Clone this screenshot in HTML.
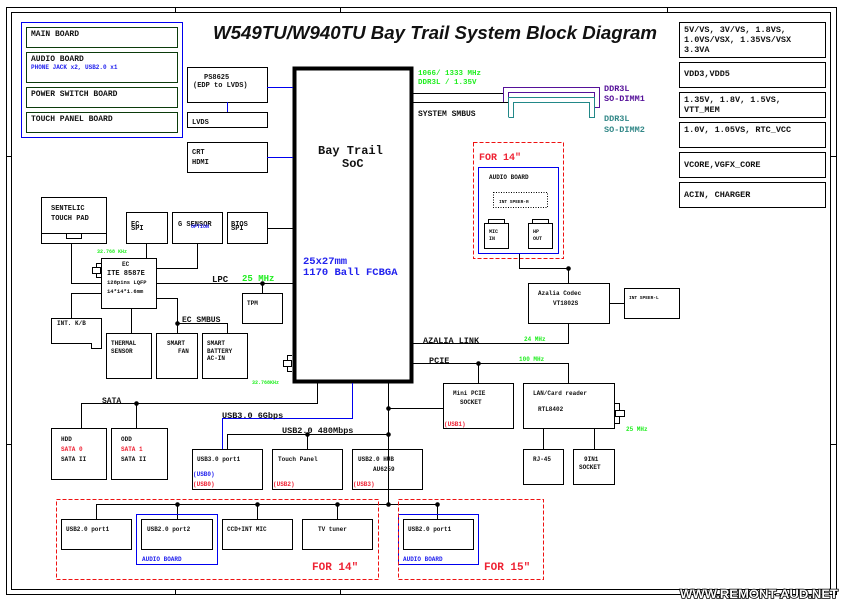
<!DOCTYPE html>
<html><head><meta charset="utf-8"><style>
html,body{margin:0;padding:0;background:#fff;}
svg{display:block;}
text{font-family:"Liberation Mono",monospace;font-weight:bold;font-size:8px;fill:#111;}
.s{font-size:6px;}
.g{fill:#22ee22;}
.b{fill:#2222ee;}
.r{fill:#ee2233;}
</style></head><body>
<svg width="844" height="603" viewBox="0 0 844 603" xmlns="http://www.w3.org/2000/svg">
<g fill="none" stroke="#000" stroke-width="1">
<rect x="6.5" y="7.5" width="830" height="587"/>
<rect x="11.5" y="12.5" width="819" height="577"/>
<line x1="175.5" y1="7" x2="175.5" y2="12"/><line x1="667.5" y1="7" x2="667.5" y2="12"/><line x1="340.5" y1="7" x2="340.5" y2="12"/>
<line x1="175.5" y1="589" x2="175.5" y2="594"/><line x1="340.5" y1="589" x2="340.5" y2="594"/>
<line x1="6" y1="156.5" x2="11" y2="156.5"/><line x1="6" y1="444.5" x2="11" y2="444.5"/>
<line x1="831" y1="156.5" x2="836" y2="156.5"/><line x1="831" y1="444.5" x2="836" y2="444.5"/>
<rect x="21.5" y="22.5" width="161" height="115" stroke="#0000ee"/>
<g stroke="#0b3b0b"><rect x="26.5" y="27.5" width="151" height="20"/><rect x="26.5" y="52.5" width="151" height="30"/><rect x="26.5" y="87.5" width="151" height="20"/><rect x="26.5" y="112.5" width="151" height="20"/></g>
<rect x="294.5" y="68.5" width="117" height="313" stroke-width="4"/>
<rect x="187.5" y="67.5" width="80" height="35"/><rect x="187.5" y="112.5" width="80" height="15"/><rect x="187.5" y="142.5" width="80" height="30"/>
<g stroke="#0000ee"><line x1="227.5" y1="102" x2="227.5" y2="112"/><line x1="267" y1="87.5" x2="293" y2="87.5"/><line x1="267" y1="157.5" x2="293" y2="157.5"/></g>
<rect x="41.5" y="197.5" width="65" height="46"/><line x1="41" y1="233.5" x2="106" y2="233.5"/><rect x="66.5" y="233.5" width="15" height="5"/>
<rect x="126.5" y="212.5" width="41" height="31"/><rect x="172.5" y="212.5" width="50" height="31"/><rect x="227.5" y="212.5" width="40" height="31"/>
<line x1="267" y1="228.5" x2="293" y2="228.5"/>
<rect x="101.5" y="258.5" width="55" height="50"/>
<line x1="146.5" y1="243" x2="146.5" y2="258"/>
<polyline points="197.5,243 197.5,268.5 156,268.5"/>
<polyline points="71.5,243 71.5,283.5 101,283.5"/>
<line x1="156" y1="283.5" x2="293" y2="283.5"/>
<line x1="262.5" y1="283" x2="262.5" y2="293"/><rect x="242.5" y="293.5" width="40" height="30"/>
<polyline points="101,293.5 71.5,293.5 71.5,318"/>
<polygon points="51.5,318.5 101.5,318.5 101.5,348.5 91.5,348.5 91.5,343.5 51.5,343.5"/>
<line x1="131.5" y1="308" x2="131.5" y2="333"/><rect x="106.5" y="333.5" width="45" height="45"/>
<polyline points="156,298.5 177.5,298.5 177.5,333"/><polyline points="177.5,323.5 227.5,323.5 227.5,333"/>
<rect x="156.5" y="333.5" width="41" height="45"/><rect x="202.5" y="333.5" width="45" height="45"/>
<polyline points="101,263.5 96.5,263.5 96.5,267"/><rect x="92.5" y="267.5" width="8" height="6"/><polyline points="96.5,273 96.5,277.5 101,277.5"/>
<polyline points="292,355.5 287.5,355.5 287.5,360"/><rect x="283.5" y="360.5" width="8" height="6"/><polyline points="287.5,367 287.5,371.5 292,371.5"/>
<polyline points="614,403.5 619.5,403.5 619.5,410"/><rect x="615.5" y="410.5" width="9" height="6"/><polyline points="619.5,417 619.5,423.5 614,423.5"/>
<polyline points="317.5,383 317.5,403.5 81.5,403.5 81.5,428"/><line x1="136.5" y1="403" x2="136.5" y2="428"/>
<rect x="51.5" y="428.5" width="55" height="51"/><rect x="111.5" y="428.5" width="56" height="51"/>
<polyline points="352.5,383 352.5,418.5 222.5,418.5 222.5,449" stroke="#0000ee"/>
<line x1="388.5" y1="383" x2="388.5" y2="504"/>
<line x1="388" y1="408.5" x2="443" y2="408.5"/>
<polyline points="227.5,449 227.5,434.5 388,434.5"/><line x1="307.5" y1="434" x2="307.5" y2="449"/>
<rect x="192.5" y="449.5" width="70" height="40"/><rect x="272.5" y="449.5" width="70" height="40"/><rect x="352.5" y="449.5" width="70" height="40"/>
<polyline points="96.5,519 96.5,504.5 437.5,504.5 437.5,519"/>
<line x1="177.5" y1="504" x2="177.5" y2="519"/><line x1="257.5" y1="504" x2="257.5" y2="519"/><line x1="337.5" y1="504" x2="337.5" y2="519"/>
<rect x="61.5" y="519.5" width="70" height="30"/><rect x="141.5" y="519.5" width="71" height="30"/><rect x="222.5" y="519.5" width="70" height="30"/><rect x="302.5" y="519.5" width="70" height="30"/><rect x="403.5" y="519.5" width="70" height="30"/>
<rect x="136.5" y="514.5" width="81" height="50" stroke="#0000ee"/><rect x="398.5" y="514.5" width="80" height="50" stroke="#0000ee"/>
<g stroke="#ee1111" stroke-dasharray="4,2"><rect x="56.5" y="499.5" width="322" height="80"/><rect x="398.5" y="499.5" width="145" height="80"/><rect x="473.5" y="142.5" width="90" height="116"/></g>
<line x1="413" y1="363.5" x2="568.5" y2="363.5"/><line x1="568.5" y1="363" x2="568.5" y2="383"/><line x1="478.5" y1="363" x2="478.5" y2="383"/>
<rect x="443.5" y="383.5" width="70" height="45"/><rect x="523.5" y="383.5" width="91" height="45"/>
<line x1="543.5" y1="428" x2="543.5" y2="449"/><line x1="594.5" y1="428" x2="594.5" y2="449"/>
<rect x="523.5" y="449.5" width="40" height="35"/><rect x="573.5" y="449.5" width="41" height="35"/>
<polyline points="413,343.5 568.5,343.5 568.5,323"/>
<rect x="528.5" y="283.5" width="81" height="40"/><rect x="624.5" y="288.5" width="55" height="30"/><line x1="609" y1="303.5" x2="624" y2="303.5"/>
<polyline points="568.5,283 568.5,268.5 519.5,268.5 519.5,253"/>
<rect x="478.5" y="167.5" width="80" height="86" stroke="#0000ee"/>
<rect x="493.5" y="192.5" width="54" height="15" stroke-dasharray="1,1.5"/>
<rect x="484.5" y="223.5" width="24" height="25"/><rect x="488.5" y="219.5" width="16" height="4"/>
<rect x="528.5" y="223.5" width="24" height="25"/><rect x="532.5" y="219.5" width="16" height="4"/>
<line x1="413" y1="93.5" x2="503" y2="93.5"/><line x1="413" y1="102.5" x2="508" y2="102.5"/>
<polyline points="503.5,102 503.5,87.5 599.5,87.5 599.5,107.5 594.5,107.5 594.5,92.5 508.5,92.5 508.5,102" stroke="#551199"/>
<polyline points="508.5,117 508.5,97.5 594.5,97.5 594.5,117.5 589.5,117.5 589.5,102.5 513.5,102.5 513.5,117.5 508.5,117.5" stroke="#228888"/>
<rect x="679.5" y="22.5" width="146" height="35"/><rect x="679.5" y="62.5" width="146" height="25"/><rect x="679.5" y="92.5" width="146" height="25"/><rect x="679.5" y="122.5" width="146" height="25"/><rect x="679.5" y="152.5" width="146" height="25"/><rect x="679.5" y="182.5" width="146" height="25"/>
</g>
<g fill="#000">
<circle cx="262.5" cy="283.5" r="2.3"/><circle cx="177.5" cy="323.5" r="2.3"/><circle cx="136.5" cy="403.5" r="2.3"/>
<circle cx="388.5" cy="408.5" r="2.3"/><circle cx="388.5" cy="434.5" r="2.3"/><circle cx="307.5" cy="434.5" r="2.3"/>
<circle cx="388.5" cy="504.5" r="2.3"/><circle cx="177.5" cy="504.5" r="2.3"/><circle cx="257.5" cy="504.5" r="2.3"/><circle cx="337.5" cy="504.5" r="2.3"/><circle cx="437.5" cy="504.5" r="2.3"/>
<circle cx="478.5" cy="363.5" r="2.3"/><circle cx="568.5" cy="268.5" r="2.3"/>
</g>
<text x="213" y="39" textLength="444" lengthAdjust="spacingAndGlyphs" style="font-family:'Liberation Sans',sans-serif;font-style:italic;font-size:18.5px;">W549TU/W940TU Bay Trail System Block Diagram</text>
<text x="31" y="36">MAIN  BOARD</text>
<text x="31" y="61">AUDIO  BOARD</text><text x="31" y="69" class="s b">PHONE JACK x2, USB2.0 x1</text>
<text x="31" y="96">POWER  SWITCH  BOARD</text>
<text x="31" y="121">TOUCH  PANEL  BOARD</text>
<text x="204" y="79" class="s" style="font-size:7px">PS8625</text><text x="193" y="87" class="s" style="font-size:7px">(EDP to LVDS)</text>
<text x="192" y="124" class="s" style="font-size:7px">LVDS</text>
<text x="192" y="154" class="s" style="font-size:7px">CRT</text><text x="192" y="164" class="s" style="font-size:7px">HDMI</text>
<text x="318" y="154" style="font-size:12px">Bay Trail</text><text x="342" y="167" style="font-size:12px">SoC</text>
<text x="303" y="264" class="b" style="font-size:10.5px">25x27mm</text><text x="303" y="275" class="b" style="font-size:10.5px">1170 Ball FCBGA</text>
<text x="51" y="210" class="s" style="font-size:7px">SENTELIC</text><text x="51" y="220" class="s" style="font-size:7px">TOUCH PAD</text>
<text x="131" y="226" class="s" style="font-size:7px">EC</text><text x="131" y="230" class="s" style="font-size:7px">SPI</text>
<text x="178" y="226" class="s" style="font-size:7px">G SENSOR</text><text x="191" y="228" class="s b" style="font-size:5px">OPTION</text>
<text x="231" y="226" class="s" style="font-size:7px">BIOS</text><text x="231" y="230" class="s" style="font-size:7px">SPI</text>
<text x="97" y="253" class="s g" style="font-size:5px">32.768 KHz</text>
<text x="122" y="266" class="s">EC</text><text x="107" y="275" class="s" style="font-size:7px">ITE 8587E</text>
<text x="107" y="284" class="s" style="font-size:5.5px">128pins LQFP</text><text x="107" y="293" class="s" style="font-size:5.5px">14*14*1.6mm</text>
<text x="212" y="282" style="font-size:9px">LPC</text><text x="242" y="281" class="g" style="font-size:9px">25 MHz</text>
<text x="247" y="305" class="s">TPM</text>
<text x="57" y="325" class="s">INT. K/B</text>
<text x="111" y="345" class="s">THERMAL</text><text x="111" y="353" class="s">SENSOR</text>
<text x="182" y="322" style="font-size:8px">EC SMBUS</text>
<text x="167" y="345" class="s">SMART</text><text x="178" y="353" class="s">FAN</text>
<text x="207" y="345" class="s">SMART</text><text x="207" y="353" class="s">BATTERY</text><text x="207" y="360" class="s">AC-IN</text>
<text x="252" y="384" class="s g" style="font-size:5px">32.768KHz</text>
<text x="102" y="403" style="font-size:8px">SATA</text>
<text x="61" y="441" class="s">HDD</text><text x="61" y="451" class="s r">SATA 0</text><text x="61" y="461" class="s">SATA II</text>
<text x="121" y="441" class="s">ODD</text><text x="121" y="451" class="s r">SATA 1</text><text x="121" y="461" class="s">SATA II</text>
<text x="222" y="418" style="font-size:8.5px">USB3.0 6Gbps</text>
<text x="282" y="433" style="font-size:8.5px">USB2.0 480Mbps</text>
<text x="197" y="461" class="s">USB3.0 port1</text><text x="193" y="476" class="s b">(USB0)</text><text x="193" y="486" class="s r">(USB0)</text>
<text x="278" y="461" class="s">Touch Panel</text><text x="273" y="486" class="s r">(USB2)</text>
<text x="358" y="461" class="s">USB2.0  HUB</text><text x="373" y="471" class="s">AU6259</text><text x="353" y="486" class="s r">(USB3)</text>
<text x="66" y="531" class="s">USB2.0 port1</text><text x="147" y="531" class="s">USB2.0 port2</text>
<text x="227" y="531" class="s">CCD+INT MIC</text><text x="318" y="531" class="s">TV tuner</text>
<text x="142" y="561" class="s b">AUDIO  BOARD</text>
<text x="312" y="570" class="r" style="font-size:11px">FOR 14"</text>
<text x="408" y="531" class="s">USB2.0 port1</text><text x="403" y="561" class="s b">AUDIO  BOARD</text>
<text x="484" y="570" class="r" style="font-size:11px">FOR 15"</text>
<text x="479" y="160" class="r" style="font-size:10px">FOR 14"</text>
<text x="489" y="179" class="s">AUDIO  BOARD</text>
<text x="499" y="203" class="s" style="font-size:4.5px">INT  SPEER-R</text>
<text x="489" y="233" class="s" style="font-size:5px">MIC</text><text x="489" y="240" class="s" style="font-size:5px">IN</text>
<text x="533" y="233" class="s" style="font-size:5px">HP</text><text x="533" y="240" class="s" style="font-size:5px">OUT</text>
<text x="538" y="295" class="s">Azalia Codec</text><text x="553" y="305" class="s">VT1802S</text>
<text x="629" y="299" class="s" style="font-size:4.5px">INT SPEER-L</text>
<text x="423" y="343" style="font-size:8.5px">AZALIA LINK</text><text x="524" y="341" class="s g">24 MHz</text>
<text x="429" y="363" style="font-size:8.5px">PCIE</text><text x="519" y="361" class="s g">100 MHz</text>
<text x="453" y="395" class="s">Mini PCIE</text><text x="460" y="404" class="s">SOCKET</text><text x="444" y="426" class="s r">(USB1)</text>
<text x="533" y="395" class="s">LAN/Card  reader</text><text x="538" y="411" class="s">RTL8402</text>
<text x="626" y="431" class="s g">25 MHz</text>
<text x="533" y="461" class="s">RJ-45</text><text x="584" y="461" class="s">9IN1</text><text x="579" y="469" class="s">SOCKET</text>
<text x="418" y="75" class="g" style="font-size:7.5px">1066/ 1333 MHz</text><text x="418" y="84" class="g" style="font-size:7.5px">DDR3L / 1.35V</text>
<text x="418" y="116" style="font-size:8px">SYSTEM SMBUS</text>
<text x="604" y="91" style="fill:#551199;font-size:8.5px">DDR3L</text><text x="604" y="101" style="fill:#551199;font-size:8.5px">SO-DIMM1</text>
<text x="604" y="121" style="fill:#338888;font-size:8.5px">DDR3L</text><text x="604" y="132" style="fill:#338888;font-size:8.5px">SO-DIMM2</text>
<text x="684" y="32" style="font-size:8.5px">5V/VS, 3V/VS, 1.8VS,</text><text x="684" y="42" style="font-size:8.5px">1.0VS/VSX, 1.35VS/VSX</text><text x="684" y="52" style="font-size:8.5px">3.3VA</text>
<text x="684" y="76" style="font-size:8.5px">VDD3,VDD5</text>
<text x="684" y="102" style="font-size:8.5px">1.35V, 1.8V, 1.5VS,</text><text x="684" y="112" style="font-size:8.5px">VTT_MEM</text>
<text x="684" y="132" style="font-size:8.5px">1.0V, 1.05VS, RTC_VCC</text>
<text x="684" y="167" style="font-size:8.5px">VCORE,VGFX_CORE</text>
<text x="684" y="197" style="font-size:8.5px">ACIN, CHARGER</text>
<text x="680" y="598" textLength="158" lengthAdjust="spacingAndGlyphs" style="font-family:'Liberation Sans',sans-serif;font-size:12px;font-weight:bold;fill:#fff;stroke:#000;stroke-width:1.6;paint-order:stroke;">WWW.REMONT-AUD.NET</text>
</svg>
</body></html>
